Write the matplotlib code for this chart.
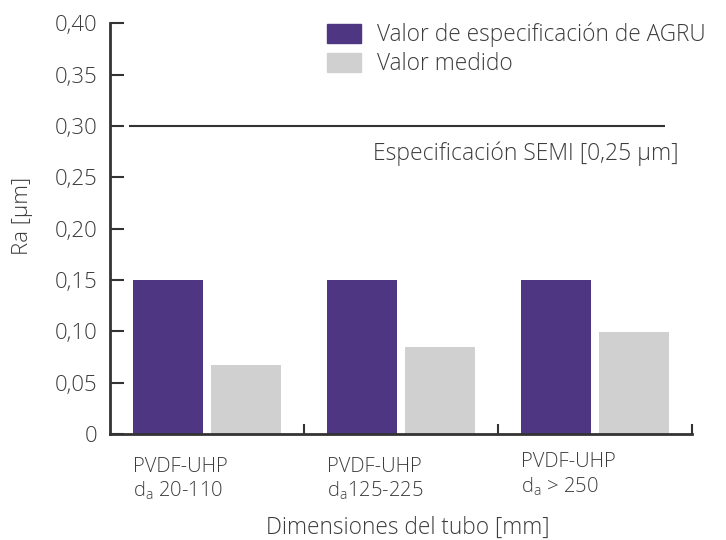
import matplotlib.pyplot as plt
from matplotlib.patches import Patch
import numpy as np

plt.rcParams['font.family'] = ['Open Sans', 'DejaVu Sans']
plt.rcParams['font.weight'] = 'light'
plt.rcParams['axes.labelweight'] = 'light'
plt.rcParams['mathtext.fontset'] = 'custom'
plt.rcParams['mathtext.rm'] = 'Open Sans:light'

# data
groups = ['PVDF-UHP\nd$_{\\mathregular{a}}$ 20-110',
          'PVDF-UHP\nd$_{\\mathregular{a}}$125-225',
          'PVDF-UHP\nd$_{\\mathregular{a}}$ > 250']
agru_spec = [0.15, 0.15, 0.15]
measured = [0.067, 0.085, 0.099]
semi_line = 0.30
yticks = [0, 0.05, 0.10, 0.15, 0.20, 0.25, 0.30, 0.35, 0.40]
ytick_labels = ['0', '0,05', '0,10', '0,15', '0,20', '0,25', '0,30', '0,35', '0,40']

purple = '#4e3683'
grey = '#d0d0d0'
txt = '#3c3c3c'
axc = '#333333'

fig = plt.figure(figsize=(7.26, 5.4), dpi=100)
ax = fig.add_axes([0.1515, 0.196, 0.8015, 0.761])

x = np.arange(len(groups))
w = 0.36
ax.bar(x + 0.30, agru_spec, w, color=purple)
ax.bar(x + 0.70, measured, w, color=grey)

ax.hlines(semi_line, 0.10, 2.86, color=axc, lw=1.5)
ax.text(2.93, semi_line - 0.027, 'Especificación SEMI [0,25 µm]', ha='right', va='center',
        fontsize=16.5, color=txt)

ax.set_xlim(0, 3)
ax.set_ylim(0, 0.40)
ax.set_yticks(yticks)
ax.set_yticklabels(ytick_labels)
ax.set_xticks([1, 2, 3])
ax.set_xticklabels([])
ax.tick_params(axis='y', direction='in', length=10, width=1.5, color=axc,
               labelsize=16, labelcolor=txt, pad=9)
ax.tick_params(axis='x', direction='in', length=7, width=1.5, color=axc)
for s in ['top', 'right']:
    ax.spines[s].set_visible(False)
for s in ['left', 'bottom']:
    ax.spines[s].set_linewidth(2)
    ax.spines[s].set_color(axc)

# category labels under each group
for i, g in enumerate(groups):
    yoff = -0.055 if i < 2 else -0.043
    ax.text(i + 0.12, yoff, g, transform=ax.get_xaxis_transform(), ha='left', va='top',
            fontsize=14.5, color=txt, linespacing=1.2)

ax.set_ylabel('Ra [µm]', fontsize=16, color=txt, va='center')
ax.yaxis.set_label_coords(-0.151, 0.53)
ax.set_xlabel('Dimensiones del tubo [mm]', fontsize=16.3, color=txt, va='center')
ax.xaxis.set_label_coords(0.512, -0.227)

handles = [Patch(color=purple), Patch(color=grey)]
ax.legend(handles, ['Valor de especificación de AGRU', 'Valor medido'],
          loc='upper left', bbox_to_anchor=(0.450, 0.958, 0, 0), bbox_transform=fig.transFigure,
          frameon=False, fontsize=16.3, handlelength=1.5, handleheight=0.9, handletextpad=0.72,
          labelspacing=0.22, borderaxespad=0, borderpad=0, labelcolor=txt)

fig.savefig('out.png', dpi=100)
